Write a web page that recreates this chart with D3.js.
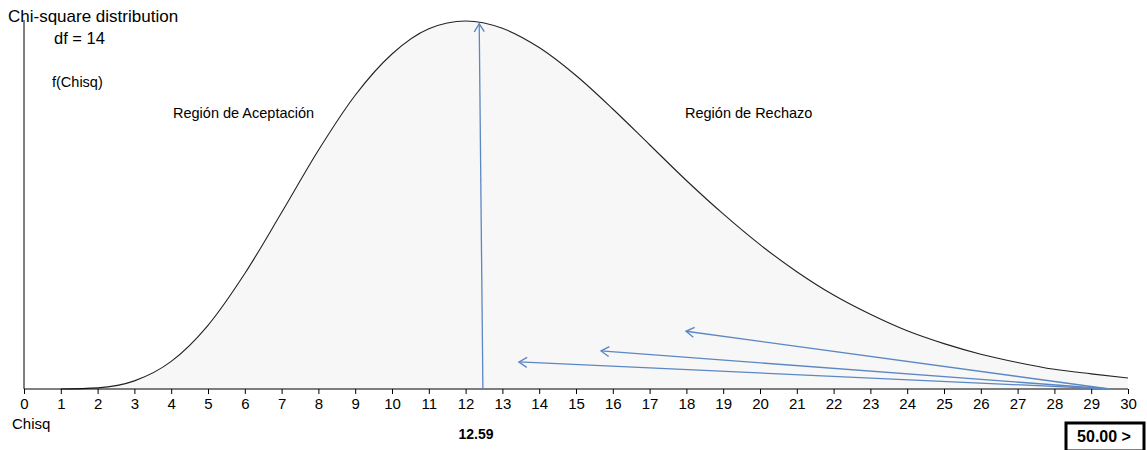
<!DOCTYPE html>
<html>
<head>
<meta charset="utf-8">
<script src="https://cdn.jsdelivr.net/npm/d3@7"></script>
<style>
  body { margin: 0; background: #fff; }
  svg { display: block; font-family: "Liberation Sans", Arial, sans-serif; }
</style>
</head>
<body>
<svg id="chart" width="1147" height="450"></svg>
<script>
// chi-square values (df = 14)
const chisq = [0, 1, 2, 3, 4, 5, 6, 7, 8, 9, 10, 11, 12, 13, 14, 15, 16, 17, 18, 19, 20,
  21, 22, 23, 24, 25, 26, 27, 28, 29, 30];
const density = [0, 0.0000066, 0.000256, 0.00177, 0.00602, 0.0139, 0.0252, 0.0385, 0.0521,
  0.0641, 0.0731, 0.0786, 0.0803, 0.0787, 0.0745, 0.0684, 0.0611, 0.0533, 0.0455, 0.0382,
  0.0315, 0.0256, 0.0205, 0.0163, 0.0127, 0.0099, 0.0076, 0.0058, 0.0043, 0.0033, 0.0024];
const tickValues = d3.range(0, 31);

// arrows: [fromX, fromY, toX, toY] in data units
const arrows = [
  [12.47, 0, 12.37, 0.0797],
  [29.5, 0, 17.99, 0.0126],
  [29.5, 0, 15.68, 0.0083],
  [29.5, 0, 13.45, 0.0059],
];

const svg = d3.select('#chart');
const x = d3.scaleLinear().domain([0, 30]).range([24, 1128]);
const y = d3.scaleLinear().domain([0, 0.0803]).range([389, 21]);

const pts = chisq.map((c, i) => ({ c, d: density[i] }));

/* filled curve */
svg.append('path')
  .datum(pts)
  .attr('fill', '#f7f7f7')
  .attr('d', d3.area().x((d) => x(d.c)).y0(y(0)).y1((d) => y(d.d)).curve(d3.curveMonotoneX));

svg.append('path')
  .datum(pts.slice(1))
  .attr('fill', 'none')
  .attr('stroke', '#222')
  .attr('stroke-width', 1.1)
  .attr('d', d3.line().x((d) => x(d.c)).y((d) => y(d.d)).curve(d3.curveMonotoneX));

/* axes */
const xAxis = svg.append('g')
  .attr('transform', `translate(0,${y(0)})`)
  .call(d3.axisBottom(x).tickValues(tickValues).tickSize(5).tickPadding(4).tickFormat(d3.format('d')));
xAxis.select('.domain').attr('stroke', '#000').attr('d', `M${x(0)},0H${x(30)}`);
xAxis.selectAll('.tick line').attr('stroke', '#000');
xAxis.selectAll('.tick text').attr('font-size', 15).attr('font-family', '"Liberation Sans", Arial, sans-serif').attr('fill', '#000');

svg.append('line')
  .attr('x1', x(0)).attr('x2', x(0))
  .attr('y1', 20).attr('y2', y(0))
  .attr('stroke', '#000');

/* arrows */
const defs = svg.append('defs');
defs.append('marker')
  .attr('id', 'head')
  .attr('markerUnits', 'userSpaceOnUse')
  .attr('viewBox', '-10 -6 12 12')
  .attr('markerWidth', 12).attr('markerHeight', 12)
  .attr('refX', 0).attr('refY', 0)
  .attr('orient', 'auto')
  .append('path')
  .attr('d', 'M-8,-5L0,0L-8,5')
  .attr('fill', 'none')
  .attr('stroke', '#5b87c4')
  .attr('stroke-width', 1.4);

svg.selectAll('.arrow')
  .data(arrows)
  .enter().append('line')
  .attr('class', 'arrow')
  .attr('x1', (d) => x(d[0])).attr('y1', (d) => y(d[1]))
  .attr('x2', (d) => x(d[2])).attr('y2', (d) => y(d[3]))
  .attr('stroke', '#5b87c4')
  .attr('stroke-width', 1.3)
  .attr('marker-end', 'url(#head)');

/* texts */
const txt = (s, tx, ty, size, extra) => {
  const t = svg.append('text').attr('x', tx).attr('y', ty).attr('font-size', size).attr('fill', '#000').text(s);
  if (extra) extra(t);
  return t;
};
txt('Chi-square distribution', 8, 22, 17);
txt('df = 14', 54, 44, 16.5);
txt('f(Chisq)', 52, 87, 14.5);
txt('Región de Aceptación', 173, 118, 14.5);
txt('Región de Rechazo', 685, 118, 14.5);
txt('Chisq', 12, 429, 15);
txt('12.59', 476, 439, 14, (t) => t.attr('text-anchor', 'middle').attr('font-weight', 'bold'));

svg.append('rect')
  .attr('x', 1066).attr('y', 423).attr('width', 78).attr('height', 28)
  .attr('fill', '#fff').attr('stroke', '#000').attr('stroke-width', 3);
txt('50.00 >', 1104, 442, 16, (t) => t.attr('text-anchor', 'middle').attr('font-weight', 'bold'));
</script>
</body>
</html>
